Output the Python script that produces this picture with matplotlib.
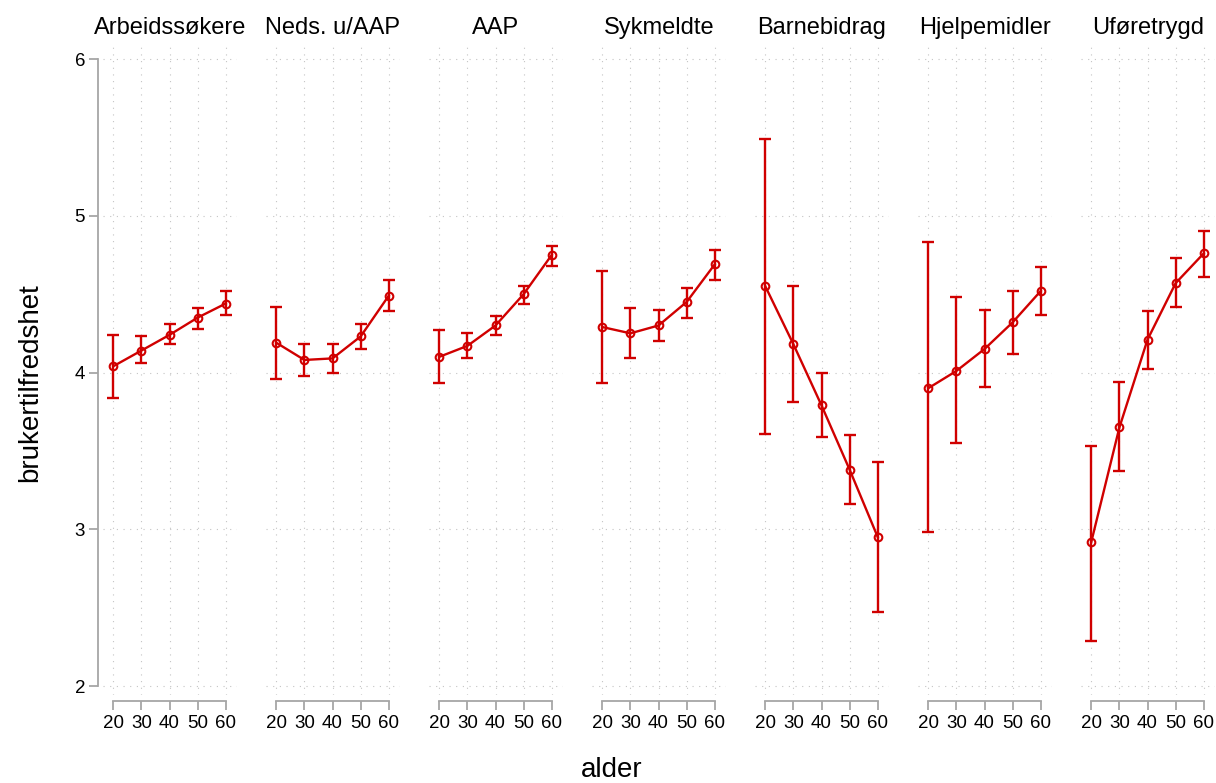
import numpy as np
import matplotlib as mpl
import matplotlib.pyplot as plt

mpl.use('Agg')

plt.rcParams['font.family'] = ['Liberation Sans', 'DejaVu Sans']

ages = [20, 30, 40, 50, 60]
groups = ['Arbeidssøkere', 'Neds. u/AAP', 'AAP', 'Sykmeldte',
          'Barnebidrag', 'Hjelpemidler', 'Uføretrygd']

# mean satisfaction per age group
arbeid = [4.04, 4.14, 4.24, 4.35, 4.44]
neds = [4.19, 4.08, 4.09, 4.23, 4.49]
aap = [4.10, 4.17, 4.30, 4.50, 4.75]
syk = [4.29, 4.25, 4.30, 4.45, 4.69]
barn = [4.55, 4.18, 3.79, 3.38, 2.95]
hjelp = [3.90, 4.01, 4.15, 4.32, 4.52]
ufore = [2.92, 3.65, 4.21, 4.57, 4.76]

# confidence interval bounds
arbeid_lo = [3.84, 4.06, 4.18, 4.28, 4.37]
arbeid_hi = [4.24, 4.23, 4.31, 4.41, 4.52]
neds_lo = [3.96, 3.98, 4.00, 4.15, 4.39]
neds_hi = [4.42, 4.18, 4.18, 4.31, 4.59]
aap_lo = [3.93, 4.09, 4.24, 4.44, 4.68]
aap_hi = [4.27, 4.25, 4.36, 4.55, 4.81]
syk_lo = [3.93, 4.09, 4.20, 4.35, 4.59]
syk_hi = [4.65, 4.41, 4.40, 4.54, 4.78]
barn_lo = [3.61, 3.81, 3.59, 3.16, 2.47]
barn_hi = [5.49, 4.55, 4.00, 3.60, 3.43]
hjelp_lo = [2.98, 3.55, 3.91, 4.12, 4.37]
hjelp_hi = [4.83, 4.48, 4.40, 4.52, 4.67]
ufore_lo = [2.29, 3.37, 4.02, 4.42, 4.61]
ufore_hi = [3.53, 3.94, 4.39, 4.73, 4.90]

means = [arbeid, neds, aap, syk, barn, hjelp, ufore]
lows = [arbeid_lo, neds_lo, aap_lo, syk_lo, barn_lo, hjelp_lo, ufore_lo]
highs = [arbeid_hi, neds_hi, aap_hi, syk_hi, barn_hi, hjelp_hi, ufore_hi]

red = '#d00000'
gray = '#a6a6a6'

W, H = 1216, 783
fig = plt.figure(figsize=(W / 100, H / 100), dpi=100)

ax_w = 133.5
ax_bottom = 88
ax_h = 648

for i, name in enumerate(groups):
    left = 103.2 + 163 * i
    ax = fig.add_axes([left / W, ax_bottom / H, ax_w / W, ax_h / H])

    m = np.array(means[i])
    lo = np.array(lows[i])
    hi = np.array(highs[i])
    ax.errorbar(ages, m, yerr=[m - lo, hi - m], fmt='none', ecolor=red,
                elinewidth=1.7, capsize=4.3, capthick=1.7, zorder=3)
    ax.plot(ages, m, color=red, lw=1.7, marker='o', ms=5.5,
            mfc='none', mec=red, mew=1.5, zorder=4)

    ax.set_xlim(16.4, 63.9)
    ax.set_ylim(1.9426, 6.0766)
    ax.set_xticks(ages)
    ax.set_yticks([2, 3, 4, 5, 6])
    ax.grid(True, color='#c4c4c4', linestyle=(0, (1, 5)), lw=0.8)
    ax.set_axisbelow(True)

    for s in ['top', 'right']:
        ax.spines[s].set_visible(False)
    ax.spines['bottom'].set_position(('outward', 4.3))
    ax.spines['bottom'].set_bounds(20, 60)
    ax.spines['bottom'].set_color(gray)
    ax.spines['bottom'].set_linewidth(1.3)
    ax.tick_params(axis='x', color=gray, width=1.3, length=6.5, pad=3.5,
                   labelsize=13.5)

    if i == 0:
        ax.spines['left'].set_position(('outward', 3.5))
        ax.spines['left'].set_bounds(2, 6)
        ax.spines['left'].set_color(gray)
        ax.spines['left'].set_linewidth(1.3)
        ax.tick_params(axis='y', color=gray, width=1.3, length=6.5, pad=3,
                       labelsize=13.5)
    else:
        ax.spines['left'].set_visible(False)
        ax.tick_params(axis='y', left=False, labelleft=False)

    ax.text(0.5, 1.0 + 13 / ax_h, name, transform=ax.transAxes,
            ha='center', va='baseline', fontsize=17)

fig.text(30 / W, 1 - 383 / H, 'brukertilfredshet', rotation=90,
         ha='center', va='center', fontsize=20)
fig.text(612 / W, 1 - 770 / H, 'alder', ha='center', va='center',
         fontsize=20)

plt.savefig('out.png', dpi=100)
